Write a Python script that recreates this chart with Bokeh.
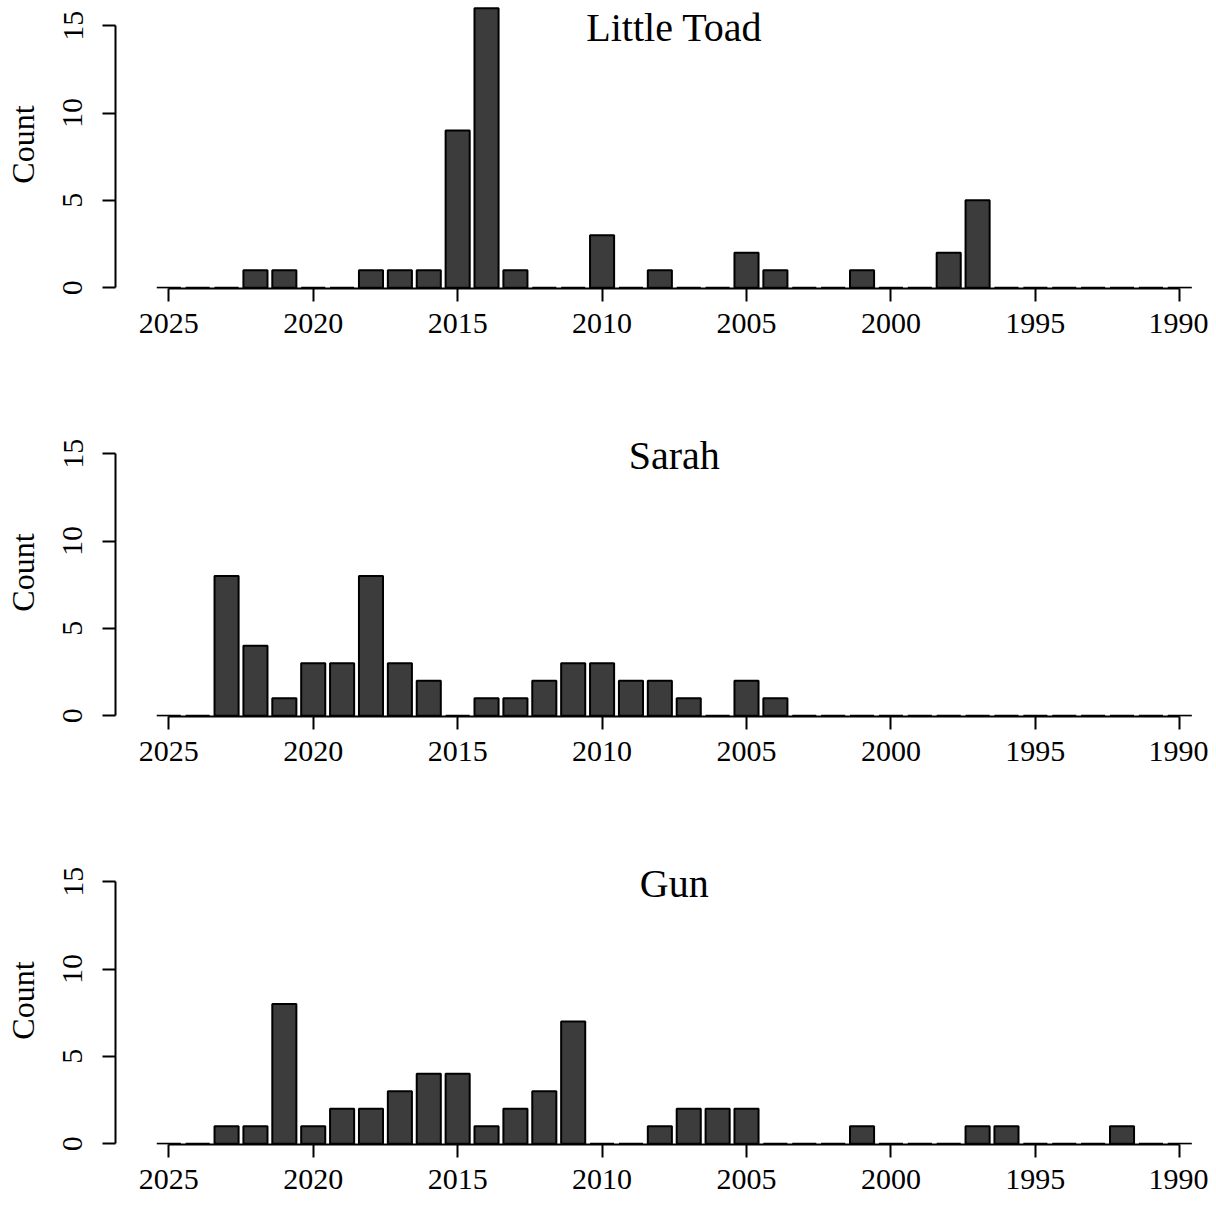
from bokeh.plotting import figure
from bokeh.models import Range1d, Label, FixedTicker
from bokeh.layouts import column
from bokeh.embed import file_html
from bokeh.resources import INLINE

# ---------------- data ----------------
all_years = list(range(2025, 1989, -1))          # 2025 ... 1990
x_ticks = [2025, 2020, 2015, 2010, 2005, 2000, 1995, 1990]
y_ticks = [0, 5, 10, 15]

panel_names = ["Little Toad", "Sarah", "Gun"]

little_toad_years = [2022, 2021, 2018, 2017, 2016, 2015, 2014, 2013, 2010, 2008, 2005, 2004, 2001, 1998, 1997]
little_toad_counts = [1, 1, 1, 1, 1, 9, 16, 1, 3, 1, 2, 1, 1, 2, 5]

sarah_years = [2023, 2022, 2021, 2020, 2019, 2018, 2017, 2016, 2014, 2013, 2012, 2011, 2010, 2009, 2008, 2007, 2005, 2004]
sarah_counts = [8, 4, 1, 3, 3, 8, 3, 2, 1, 1, 2, 3, 3, 2, 2, 1, 2, 1]

gun_years = [2023, 2022, 2021, 2020, 2019, 2018, 2017, 2016, 2015, 2014, 2013, 2012, 2011, 2008, 2007, 2006, 2005, 2001, 1997, 1996, 1992]
gun_counts = [1, 1, 8, 1, 2, 2, 3, 4, 4, 1, 2, 3, 7, 1, 2, 2, 2, 1, 1, 1, 1]

series = [(little_toad_years, little_toad_counts),
          (sarah_years, sarah_counts),
          (gun_years, gun_counts)]

# ---------------- style / layout ----------------
FONT = "Liberation Serif"
BAR_FILL = "#3c3c3c"
BAR_WIDTH = 1 / 1.2
LW = 2
X_START, X_END = 2026.845, 1989.006
Y_START, Y_END = -0.05, 16.45
FRAME_W, FRAME_H = 1093, 288
TITLE_X = (all_years[0] + all_years[-1]) / 2
TITLE_Y = 14.89


def make_panel(name, yrs, cnts, bottom_border):
    lookup = dict(zip(yrs, cnts))
    counts = [lookup.get(y, 0) for y in all_years]

    p = figure(frame_width=FRAME_W, frame_height=FRAME_H,
               x_range=Range1d(X_START, X_END), y_range=Range1d(Y_START, Y_END),
               output_backend="svg", toolbar_location=None,
               min_border_left=115, min_border_right=0, min_border_top=0,
               min_border_bottom=bottom_border)
    p.grid.visible = False
    p.outline_line_color = None
    p.background_fill_color = "white"
    p.border_fill_color = "white"

    p.vbar(x=all_years, top=counts, bottom=0, width=BAR_WIDTH,
           fill_color=BAR_FILL, line_color="black", line_width=LW)

    xa = p.xaxis[0]
    xa.ticker = FixedTicker(ticks=x_ticks)
    xa.bounds = (min(x_ticks), max(x_ticks))
    xa.major_tick_in = 0
    xa.major_tick_out = 13
    xa.minor_tick_line_color = None
    xa.axis_line_width = LW
    xa.axis_line_color = "black"
    xa.major_tick_line_width = LW
    xa.major_tick_line_color = "black"
    xa.major_label_text_font = FONT
    xa.major_label_text_font_size = "30px"
    xa.major_label_text_color = "black"
    xa.major_label_standoff = 12

    ya = p.yaxis[0]
    ya.ticker = FixedTicker(ticks=y_ticks)
    ya.bounds = (min(y_ticks), max(y_ticks))
    ya.major_tick_in = 0
    ya.major_tick_out = 13
    ya.minor_tick_line_color = None
    ya.axis_line_width = LW
    ya.axis_line_color = "black"
    ya.major_tick_line_width = LW
    ya.major_tick_line_color = "black"
    ya.major_label_text_font = FONT
    ya.major_label_text_font_size = "30px"
    ya.major_label_text_color = "black"
    ya.major_label_orientation = "vertical"
    ya.major_label_standoff = 20
    ya.axis_label = "Count"
    ya.axis_label_text_font = FONT
    ya.axis_label_text_font_size = "32px"
    ya.axis_label_text_font_style = "normal"
    ya.axis_label_text_color = "black"
    ya.axis_label_standoff = 20

    p.add_layout(Label(x=TITLE_X, y=TITLE_Y, text=name, text_font=FONT,
                       text_font_size="40px", text_color="black",
                       text_align="center", text_baseline="middle"))
    return p


borders = [140, 140, 55]
panels = [make_panel(n, s[0], s[1], b) for n, s, b in zip(panel_names, series, borders)]
layout = column(*panels, spacing=0)

open("out.html", "w").write(file_html(layout, INLINE))
